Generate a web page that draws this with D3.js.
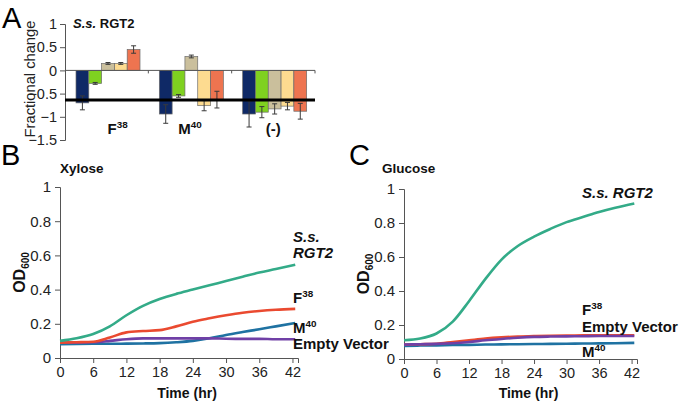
<!DOCTYPE html>
<html>
<head>
<meta charset="utf-8">
<script src="https://cdn.jsdelivr.net/npm/d3@7"></script>
<style>
body { margin: 0; background: #fff; }
svg text { font-family: "Liberation Sans", Arial, sans-serif; }
</style>
</head>
<body>
<div id="fig"></div>
<script>
// ---- panel A data ----
var groups = ["F38", "M40", "(-)"];
var barSeries = ["s1", "s2", "s3", "s4", "s5"];
var barColors = ["#0f2966", "#7fd120", "#cabf9c", "#fddb90", "#ee7450"];
var barValues = [
    [-0.70, -0.28, 0.15, 0.15, 0.45],
    [-0.94, -0.55, 0.30, -0.76, -0.63],
    [-0.94, -0.90, -0.83, -0.77, -0.88]
];
var barErrors = [
    [0.15, 0.02, 0.02, 0.02, 0.08],
    [0.20, 0.03, 0.03, 0.11, 0.18],
    [0.28, 0.12, 0.11, 0.08, 0.17]
];
var thresholdValue = -0.64;
var yTicksA = [1, 0.5, 0, -0.5, -1, -1.5];

// ---- panels B / C data ----
var hours = [0, 3, 6, 9, 12, 15, 18, 21, 24, 27, 30, 33, 36, 39, 42.5];
var xTicks = [0, 6, 12, 18, 24, 30, 36, 42];
var yTicksOD = [0, 0.2, 0.4, 0.6, 0.8, 1];

var xyloseRGT2  = [0.10, 0.115, 0.14, 0.185, 0.25, 0.305, 0.345, 0.375, 0.40, 0.425, 0.45, 0.475, 0.50, 0.52, 0.545];
var xyloseF38   = [0.09, 0.092, 0.095, 0.12, 0.15, 0.158, 0.163, 0.185, 0.212, 0.232, 0.25, 0.265, 0.275, 0.282, 0.287];
var xyloseM40   = [0.08, 0.082, 0.083, 0.083, 0.084, 0.085, 0.087, 0.092, 0.10, 0.115, 0.135, 0.152, 0.168, 0.185, 0.205];
var xyloseEmpty = [0.09, 0.09, 0.092, 0.10, 0.11, 0.115, 0.115, 0.115, 0.115, 0.115, 0.113, 0.112, 0.112, 0.11, 0.11];

var glucoseRGT2  = [0.11, 0.12, 0.15, 0.22, 0.34, 0.47, 0.585, 0.665, 0.72, 0.765, 0.805, 0.835, 0.865, 0.89, 0.915];
var glucoseF38   = [0.085, 0.087, 0.09, 0.10, 0.11, 0.12, 0.127, 0.132, 0.135, 0.137, 0.138, 0.139, 0.14, 0.14, 0.14];
var glucoseM40   = [0.077, 0.079, 0.08, 0.082, 0.083, 0.085, 0.086, 0.087, 0.088, 0.089, 0.09, 0.091, 0.092, 0.093, 0.095];
var glucoseEmpty = [0.085, 0.087, 0.089, 0.093, 0.10, 0.11, 0.118, 0.125, 0.13, 0.132, 0.133, 0.134, 0.135, 0.135, 0.135];

var cGreen = "#33ab88", cRed = "#ea4a30", cBlue = "#1f72a2", cPurple = "#7040a6";
var axisColor = "#555";
var fontFam = "Liberation Sans, Arial, sans-serif";

var width = 680, height = 403;
var svg = d3.select("#fig").append("svg")
    .attr("width", width)
    .attr("height", height)
    .attr("font-family", fontFam);

function styleAxis(g) {
    g.attr("font-family", fontFam);
    g.selectAll("path, line").attr("stroke", axisColor).attr("stroke-width", 1);
    g.selectAll("text").attr("fill", "#222");
}

function supText(sel, base, sup, size) {
    sel.append("tspan").text(base);
    sel.append("tspan").attr("dy", -size * 0.4).style("font-size", (size * 0.66) + "px").text(sup);
}

// ================= Panel A =================
var xA = d3.scaleBand().domain(groups).range([65, 315]);
var xInner = d3.scaleBand().domain(barSeries).range([11, 75]);
var yA = d3.scaleLinear().domain([-1.5, 1]).range([140, 24]);

svg.append("text").attr("x", 2).attr("y", 28)
    .style("font-size", "29px").text("A");

svg.append("g").attr("transform", "translate(65,0)")
    .call(d3.axisLeft(yA).tickValues(yTicksA).tickSize(5).tickPadding(3).tickFormat(d3.format("")))
    .call(styleAxis)
    .call(g => g.selectAll("text").style("font-size", "14.5px"));

svg.append("text")
    .attr("transform", "translate(35,79) rotate(-90)")
    .attr("text-anchor", "middle")
    .style("font-size", "14.7px")
    .attr("fill", "#222")
    .text("Fractional change");

var groupG = svg.append("g").selectAll("g")
    .data(groups)
    .enter().append("g")
    .attr("transform", d => "translate(" + xA(d) + ",0)");

groupG.selectAll("rect")
    .data((g, i) => barSeries.map((s, j) => ({ s: s, v: barValues[i][j], e: barErrors[i][j], c: barColors[j] })))
    .enter().append("rect")
    .attr("x", d => xInner(d.s))
    .attr("width", xInner.bandwidth())
    .attr("y", d => yA(Math.max(0, d.v)))
    .attr("height", d => Math.abs(yA(d.v) - yA(0)))
    .attr("fill", d => d.c)
    .attr("stroke", "#6b6b6b")
    .attr("stroke-width", 0.7);

// x axis line of A at zero
svg.append("line")
    .attr("x1", 65).attr("x2", 315)
    .attr("y1", yA(0)).attr("y2", yA(0))
    .attr("stroke", axisColor);
svg.append("g").selectAll("line")
    .data(groups)
    .enter().append("line")
    .attr("x1", d => xA(d) + xA.bandwidth()).attr("x2", d => xA(d) + xA.bandwidth())
    .attr("y1", yA(0)).attr("y2", yA(0) + 3)
    .attr("stroke", axisColor);

// error bars
var errG = groupG.selectAll("g.err")
    .data((g, i) => barSeries.map((s, j) => ({ s: s, v: barValues[i][j], e: barErrors[i][j] })))
    .enter().append("g").attr("class", "err")
    .attr("stroke", "#3a3a3a").attr("stroke-width", 1);
errG.append("line")
    .attr("x1", d => xInner(d.s) + xInner.bandwidth() / 2)
    .attr("x2", d => xInner(d.s) + xInner.bandwidth() / 2)
    .attr("y1", d => yA(d.v + d.e)).attr("y2", d => yA(d.v - d.e));
errG.append("line")
    .attr("x1", d => xInner(d.s) + xInner.bandwidth() / 2 - 2.5)
    .attr("x2", d => xInner(d.s) + xInner.bandwidth() / 2 + 2.5)
    .attr("y1", d => yA(d.v + d.e)).attr("y2", d => yA(d.v + d.e));
errG.append("line")
    .attr("x1", d => xInner(d.s) + xInner.bandwidth() / 2 - 2.5)
    .attr("x2", d => xInner(d.s) + xInner.bandwidth() / 2 + 2.5)
    .attr("y1", d => yA(d.v - d.e)).attr("y2", d => yA(d.v - d.e));

// thick threshold line
svg.append("line")
    .attr("x1", 65).attr("x2", 315)
    .attr("y1", yA(thresholdValue)).attr("y2", yA(thresholdValue))
    .attr("stroke", "#000").attr("stroke-width", 3);

// group labels
var labelDx = [11, 0, 0];
var supLabels = [["F", "38"], ["M", "40"], ["(-)", ""]];
groups.forEach(function (g, i) {
    var t = svg.append("text")
        .attr("x", xA(g) + xA.bandwidth() / 2 + labelDx[i])
        .attr("y", 134)
        .attr("text-anchor", "middle")
        .style("font-size", "15px")
        .style("font-weight", "bold")
        .attr("fill", "#111");
    supText(t, supLabels[i][0], supLabels[i][1], 15);
});

var titleA = svg.append("text").attr("x", 73).attr("y", 28)
    .style("font-size", "13px").style("font-weight", "bold").attr("fill", "#111");
titleA.append("tspan").style("font-style", "italic").text("S.s.");
titleA.append("tspan").text(" RGT2");

// ================= Panels B and C =================
function growthPanel(opt) {
    var x = d3.scaleLinear().domain([0, 43]).range([opt.left, opt.right]);
    var y = d3.scaleLinear().domain([0, 1]).range([opt.bottom, opt.top]);

    svg.append("text").attr("x", opt.letterX).attr("y", 165)
        .style("font-size", "29px").text(opt.letter);
    svg.append("text").attr("x", opt.titleX).attr("y", 173)
        .style("font-size", "13.5px").style("font-weight", "bold").attr("fill", "#111")
        .text(opt.title);

    svg.append("g").attr("transform", "translate(" + opt.left + ",0)")
        .call(d3.axisLeft(y).tickValues(yTicksOD).tickSize(5).tickPadding(4).tickFormat(d3.format("")))
        .call(styleAxis)
        .call(g => g.selectAll("text").style("font-size", "15px"));

    svg.append("g").attr("transform", "translate(0," + opt.bottom + ")")
        .call(d3.axisBottom(x).tickValues(xTicks).tickSize(5).tickPadding(4))
        .call(styleAxis)
        .call(g => g.selectAll("text").style("font-size", "14.5px"));

    svg.append("text")
        .attr("x", (opt.left + opt.right) / 2 + 8).attr("y", 398)
        .attr("text-anchor", "middle")
        .style("font-size", "14px").style("font-weight", "bold").attr("fill", "#111")
        .text("Time (hr)");

    var od = svg.append("text")
        .attr("transform", "translate(" + (opt.left - 35) + "," + ((opt.top + opt.bottom) / 2) + ") rotate(-90)")
        .attr("text-anchor", "middle")
        .style("font-size", "16px").style("font-weight", "bold").attr("fill", "#111");
    od.append("tspan").text("OD");
    od.append("tspan").attr("dy", 4).style("font-size", "10px").text("600");

    var line = d3.line()
        .x((d, i) => x(hours[i]))
        .y(d => y(d))
        .curve(d3.curveMonotoneX);

    opt.series.forEach(function (s) {
        svg.append("path")
            .datum(s.values)
            .attr("d", line)
            .attr("fill", "none")
            .attr("stroke", s.color)
            .attr("stroke-width", 2.6);
    });

    opt.labels.forEach(function (l) {
        var t = svg.append("text").attr("x", l.x).attr("y", l.y)
            .style("font-size", "15px").style("font-weight", "bold").attr("fill", "#111");
        if (l.italic) t.style("font-style", "italic").text(l.text);
        else if (l.sup) supText(t, l.text, l.sup, 15);
        else t.text(l.text);
    });
}

growthPanel({
    letter: "B", letterX: 1, title: "Xylose", titleX: 60,
    left: 60, right: 298, top: 187, bottom: 358,
    series: [
        { values: xyloseM40, color: cBlue },
        { values: xyloseEmpty, color: cPurple },
        { values: xyloseF38, color: cRed },
        { values: xyloseRGT2, color: cGreen }
    ],
    labels: [
        { x: 293, y: 242, text: "S.s.", italic: true },
        { x: 293, y: 258, text: "RGT2", italic: true },
        { x: 293, y: 303, text: "F", sup: "38" },
        { x: 293, y: 333, text: "M", sup: "40" },
        { x: 293, y: 349, text: "Empty Vector" }
    ]
});

growthPanel({
    letter: "C", letterX: 349, title: "Glucose", titleX: 382,
    left: 404, right: 637, top: 189, bottom: 359,
    series: [
        { values: glucoseM40, color: cBlue },
        { values: glucoseF38, color: cRed },
        { values: glucoseEmpty, color: cPurple },
        { values: glucoseRGT2, color: cGreen }
    ],
    labels: [
        { x: 582, y: 198, text: "S.s. RGT2", italic: true },
        { x: 582, y: 315, text: "F", sup: "38" },
        { x: 582, y: 332, text: "Empty Vector" },
        { x: 582, y: 357, text: "M", sup: "40" }
    ]
});
</script>
</body>
</html>
